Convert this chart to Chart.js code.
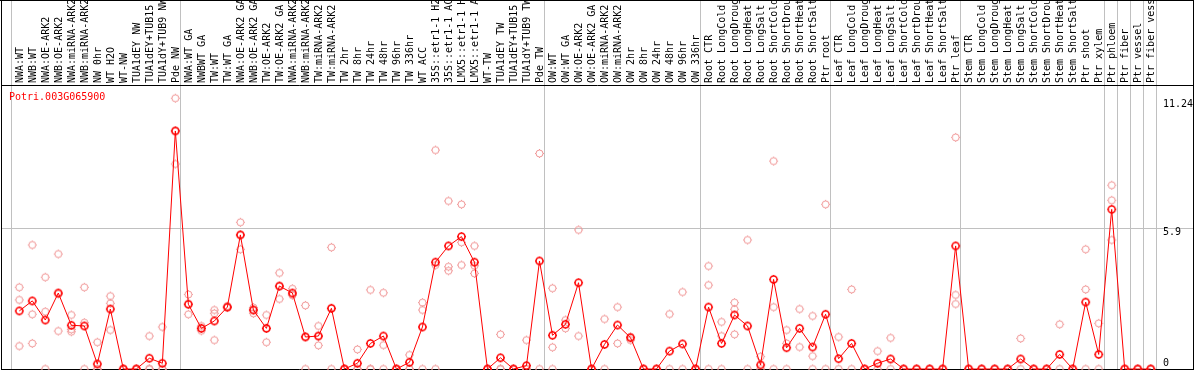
<!DOCTYPE html>
<html><head><meta charset="utf-8">
<script src="https://cdn.jsdelivr.net/npm/chart.js@4.4.1/dist/chart.umd.min.js"></script>
<style>html,body{margin:0;padding:0;background:#fff;overflow:hidden}canvas{display:block}</style>
</head><body>
<canvas id="c" width="1194" height="370"></canvas>
<script>
const geneName = 'Potri.003G065900';
const categories = [
 'NWA:WT','NWB:WT','NWA:OE-ARK2','NWB:OE-ARK2','NWA:miRNA-ARK2','NWB:miRNA-ARK2','NW 0hr','WT H2O','WT-NW','TUA1dEY NW','TUA1dEY+TUB15','TUA1dY+TUB9 NW','Pde NW',
 'NWA:WT GA','NWBWT GA','TW:WT','TW:WT GA','NWA:OE-ARK2 GA','NWB:OE-ARK2 GA','TW:OE-ARK2','TW:OE-ARK2 GA','NWA:miRNA-ARK2','NWB:miRNA-ARK2','TW:miRNA-ARK2','TW:miRNA-ARK2',
 'TW 2hr','TW 8hr','TW 24hr','TW 48hr','TW 96hr','TW 336hr','WT ACC','35S::etr1-1 H2O','35S::etr1-1 ACC','LMX5::etr1-1 H2O','LMX5::etr1-1 ACC','WT-TW','TUA1dEY TW','TUA1dEY+TUB15','TUA1dY+TUB9 TW','Pde TW',
 'OW:WT','OW:WT GA','OW:OE-ARK2','OW:OE-ARK2 GA','OW:miRNA-ARK2','OW:miRNA-ARK2','OW 2hr','OW 8hr','OW 24hr','OW 48hr','OW 96hr','OW 336hr',
 'Root CTR','Root LongCold','Root LongDrought','Root LongHeat','Root LongSalt','Root ShortCold','Root ShortDrought','Root ShortHeat','Root ShortSalt','Ptr root',
 'Leaf CTR','Leaf LongCold','Leaf LongDrought','Leaf LongHeat','Leaf LongSalt','Leaf ShortCold','Leaf ShortDrought','Leaf ShortHeat','Leaf ShortSalt','Ptr leaf',
 'Stem CTR','Stem LongCold','Stem LongDrought','Stem LongHeat','Stem LongSalt','Stem ShortCold','Stem ShortDrought','Stem ShortHeat','Stem ShortSalt','Ptr shoot','Ptr xylem',
 'Ptr phloem','Ptr fiber','Ptr vessel','Ptr fiber vessel'
];
const meanValues = [
 2.43,2.85,2.05,3.18,1.83,1.80,0.21,2.51,0,0,0.45,0.24,9.96,
 2.71,1.70,2.01,2.59,5.61,2.47,1.70,3.47,3.18,1.34,1.38,2.54,
 0,0.24,1.07,1.38,0,0.28,1.76,4.47,5.15,5.54,4.47,0,0.47,0,0.14,4.52,
 1.41,1.87,3.61,0,1.03,1.84,1.31,0,0,0.75,1.05,0,
 2.59,1.07,2.26,1.80,0.17,3.75,0.89,1.70,0.92,2.29,
 0.43,1.07,0,0.24,0.42,0,0,0,0,5.15,
 0,0,0,0,0.42,0,0,0.61,0,2.80,0.61,
 6.68,0,0,0
];
const rep1 = [
 3.42,5.19,3.84,4.81,2.26,3.42,1.12,3.05,0,0,1.38,1.76,11.33,
 3.12,1.80,2.47,2.63,6.14,2.57,2.26,4.02,3.36,2.66,1.80,5.09,
 0,0.82,3.31,3.19,0,0.59,2.78,9.16,7.03,6.89,5.15,0,1.45,0,1.21,9.02,
 3.38,2.05,5.82,0,2.09,2.59,1.35,0,0,2.30,3.22,0,
 4.31,1.97,2.78,5.40,0.52,8.70,1.63,2.51,2.22,6.89,
 1.34,3.33,0,0.75,1.30,0,0,0,0,9.69,
 0,0,0,0,1.28,0,0,1.87,0,5.01,1.91,
 7.69,0,0,0
];
const rep2 = [
 2.89,2.29,2.40,1.59,1.66,1.94,0,2.75,0,0,0,0,8.58,
 2.29,1.60,2.33,2.57,5.01,2.33,1.12,2.93,3.10,0,0.99,0,
 0,0,0,1.00,0,0,2.47,4.35,4.28,5.30,4.32,0,0,0,0,0,
 0.91,1.70,1.38,0,0,1.07,1.21,0,0,0,0,0,
 3.51,1.38,2.50,0,0,2.59,1.07,0.92,0.54,0,
 0,0,0,0,0,0,0,0,0,3.10,
 0,0,0,0,0,0,0,0,0,3.33,0,
 7.06,0,0,0
];
const rep3 = [
 0.96,1.07,0,3.14,1.56,0,0,1.63,0,0,0,0,9.97,
 2.71,1.70,1.21,2.59,5.61,2.47,1.70,3.47,3.10,1.36,1.38,2.53,
 0,0,0,0,0,0,0,0,4.11,4.35,4.00,0,0,0,0,null,
 0,null,null,null,null,null,null,null,null,null,null,null,
 0,0,1.45,null,null,0,0,null,0,null,
 null,null,null,null,null,null,null,null,null,2.72,
 null,null,null,null,null,null,null,null,null,0,null,
 5.40,null,null,null
];
const yTickValues = [0, 5.9, 11.24];
const yTickLabels = ['0', '5.9', '11.24'];
const yGridValues = [5.9];
const groupEnds = [-1, 12, 40, 52, 62, 72, 83, 84, 85, 86, 87];

// style constants
const SEP_OFFSET = 0.37;
const X_MIN = -1.407, X_MAX = 87.33, Y_MAX = 11.884;
const FONT = '10px "DejaVu Sans Mono"';
const RED = '#ff0000', PINK = '#f09696', GRID = '#c0c0c0';

function makeMarker(color, lw) {
  const c = document.createElement('canvas');
  c.width = 11; c.height = 11;
  const g = c.getContext('2d');
  g.strokeStyle = color; g.lineWidth = lw;
  g.beginPath(); g.arc(5.5, 5.5, 3.5, 0, Math.PI * 2); g.stroke();
  g.lineWidth = 1;
  g.beginPath();
  g.moveTo(5.5, 1); g.lineTo(5.5, 2);
  g.moveTo(5.5, 9); g.lineTo(5.5, 10);
  g.moveTo(1, 5.5); g.lineTo(2, 5.5);
  g.moveTo(9, 5.5); g.lineTo(10, 5.5);
  g.stroke();
  return c;
}

const meanPts = meanValues.map((v, i) => ({x: i, y: v}));
const repPts = [];
[rep1, rep2, rep3].forEach(arr => arr.forEach((v, i) => { if (v !== null) repPts.push({x: i, y: v}); }));

const decor = {
  id: 'decor',
  beforeDraw(chart) {
    const {ctx, width, height, chartArea: a, scales: {x, y}} = chart;
    ctx.save();
    ctx.fillStyle = '#fff'; ctx.fillRect(0, 0, width, height);
    ctx.strokeStyle = GRID; ctx.lineWidth = 1;
    ctx.beginPath();
    groupEnds.forEach(g => {
      const px = Math.round(x.getPixelForValue(g + SEP_OFFSET)) + 0.5;
      ctx.moveTo(px, 0); ctx.lineTo(px, a.bottom);
    });
    yGridValues.forEach(v => {
      const py = Math.round(y.getPixelForValue(v)) + 0.5;
      ctx.moveTo(1, py); ctx.lineTo(width - 1, py);
    });
    ctx.stroke();
    ctx.restore();
  },
  beforeDatasetsDraw(chart) {
    const {ctx, width, chartArea: a, scales: {y}} = chart;
    ctx.save();
    ctx.strokeStyle = '#000'; ctx.lineWidth = 1;
    ctx.beginPath();
    ctx.moveTo(0, 0.5); ctx.lineTo(width, 0.5);
    ctx.moveTo(1.5, 0); ctx.lineTo(1.5, a.bottom + 1);
    ctx.moveTo(width - 0.5, 0); ctx.lineTo(width - 0.5, a.bottom + 1);
    ctx.moveTo(1, a.top + 0.5); ctx.lineTo(width, a.top + 0.5);
    ctx.moveTo(1, a.bottom + 0.5); ctx.lineTo(width, a.bottom + 0.5);
    ctx.stroke();
    ctx.font = FONT;
    ctx.textBaseline = 'top';
    ctx.textAlign = 'left';
    ctx.fillStyle = '#000';
    yTickValues.forEach((v, i) => {
      const py = y.getPixelForValue(v);
      ctx.fillText(yTickLabels[i], a.right + 8, Math.min(py - 1, a.bottom - 11));
    });
    ctx.fillStyle = RED;
    ctx.fillText(geneName, a.left + 8, a.top + 7);
    ctx.restore();
  }
};

new Chart(document.getElementById('c'), {
  type: 'line',
  data: {
    datasets: [
      {
        type: 'line', data: meanPts, order: 0, clip: false,
        borderColor: RED, borderWidth: 1, tension: 0,
        pointStyle: makeMarker(RED, 1.6), pointRadius: 4
      },
      {
        type: 'scatter', data: repPts, order: 1, clip: false, showLine: false,
        pointStyle: makeMarker(PINK, 1), pointRadius: 4
      }
    ]
  },
  options: {
    responsive: false, animation: false, devicePixelRatio: 1,
    layout: {autoPadding: false, padding: {left: 1, right: 1, top: 0, bottom: 1}},
    plugins: {legend: {display: false}, tooltip: {enabled: false}, title: {display: false}},
    scales: {
      x: {
        type: 'linear', position: 'top', min: X_MIN, max: X_MAX,
        grid: {display: false, drawTicks: false}, border: {display: false},
        afterBuildTicks: s => { s.ticks = categories.map((_, i) => ({value: i})); },
        afterFit: s => { s.height = 85; s.paddingLeft = 0; s.paddingRight = 0; },
        ticks: {
          autoSkip: false, minRotation: 90, maxRotation: 90, padding: 2, labelOffset: 13,
          color: '#000', font: {family: 'DejaVu Sans Mono', size: 10},
          callback: v => categories[v] ?? ''
        }
      },
      y: {
        type: 'linear', position: 'right', min: 0, max: Y_MAX,
        grid: {display: false}, border: {display: false},
        ticks: {display: false},
        afterBuildTicks: s => { s.ticks = yTickValues.map(v => ({value: v})); },
        afterFit: s => { s.width = 38; }
      }
    }
  },
  plugins: [decor]
});
</script>
</body></html>
